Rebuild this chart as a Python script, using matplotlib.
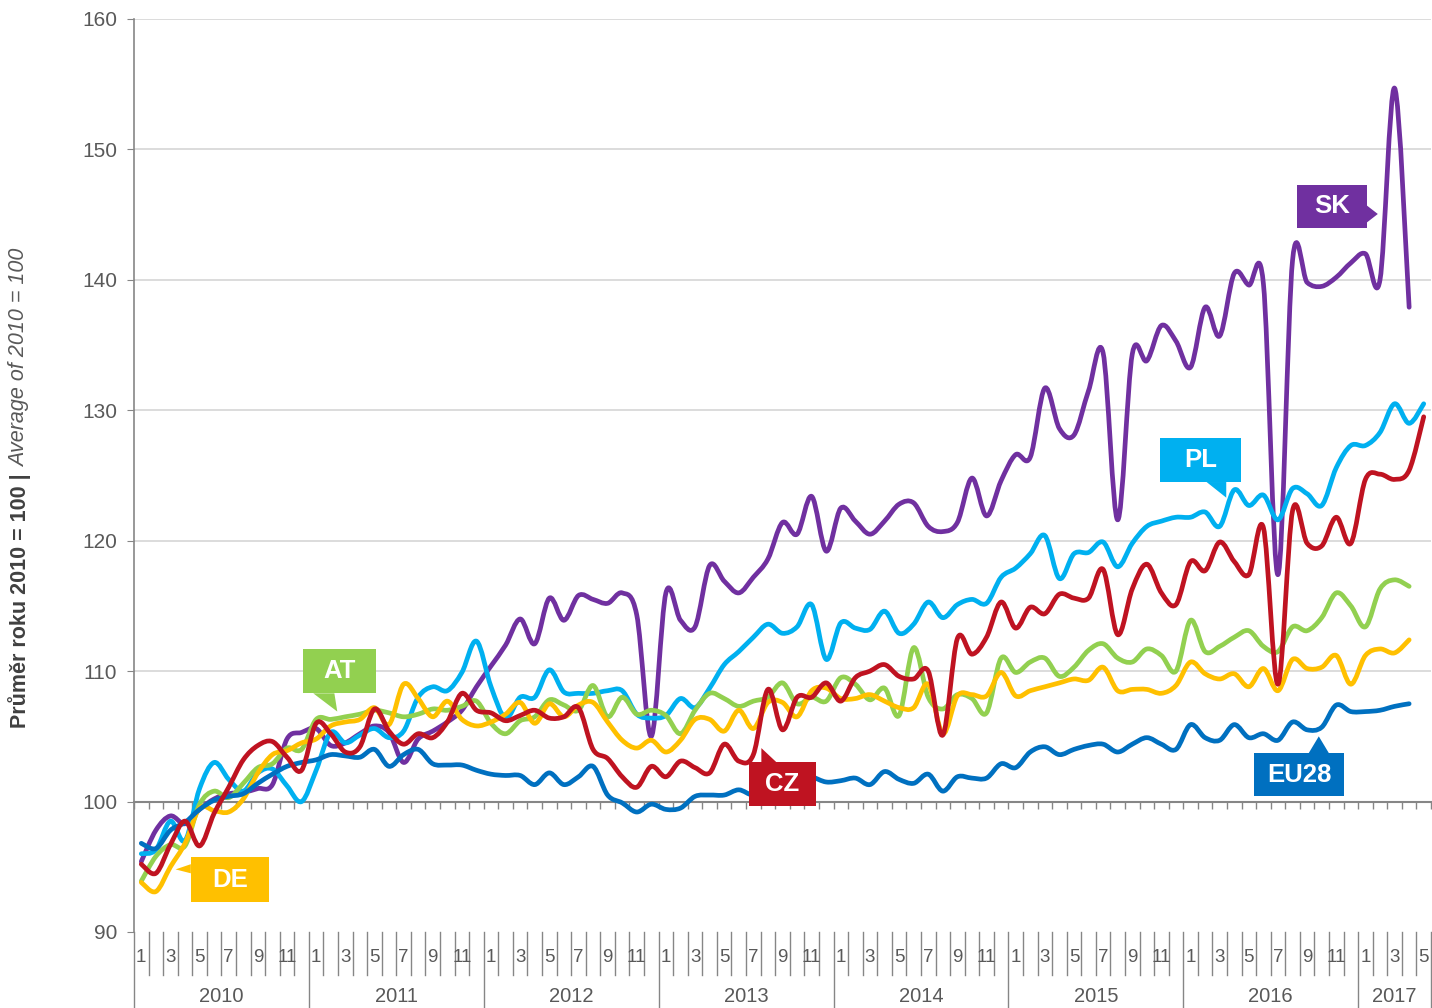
import numpy as np
import matplotlib
matplotlib.use('Agg')
import matplotlib.pyplot as plt
from matplotlib.path import Path
from matplotlib.patches import PathPatch, Polygon
from matplotlib.transforms import blended_transform_factory

plt.rcParams['font.family'] = ['Liberation Sans', 'DejaVu Sans']

# monthly index, Jan 2010 .. May 2017
years = ['2010', '2011', '2012', '2013', '2014', '2015', '2016', '2017']
n_months = 89

sk = [95.4, 97.8, 98.9, 98.3, 99.4, 100.2, 100.6, 100.7, 101.0, 101.3, 104.8, 105.3,
      105.6, 104.3, 104.5, 105.2, 105.8, 105.3, 103.0, 104.8, 105.4, 106.1, 107.0, 108.8,
      110.4, 112.0, 114.0, 112.1, 115.6, 113.9, 115.8, 115.5, 115.2, 116.0, 114.3, 105.0,
      116.0, 113.9, 113.4, 118.1, 116.9, 116.0, 117.2, 118.6, 121.4, 120.5, 123.4, 119.2,
      122.5, 121.5, 120.5, 121.5, 122.8, 122.9, 121.1, 120.7, 121.4, 124.8, 121.9, 124.6,
      126.6, 126.4, 131.7, 128.6, 128.1, 131.5, 134.4, 121.6, 134.3, 133.8, 136.5, 135.3,
      133.3, 137.9, 135.7, 140.5, 139.6, 139.7, 117.4, 141.5, 139.8, 139.5, 140.2, 141.3,
      142.0, 140.0, 154.7, 137.9]
pl = [96.0, 96.3, 98.5, 97.0, 101.0, 103.0, 101.7, 100.8, 102.2, 102.5, 101.2, 100.0,
      102.4, 105.3, 104.5, 105.1, 105.6, 104.9, 105.4, 108.0, 108.8, 108.5, 109.9, 112.3,
      108.8, 106.4, 108.0, 108.0, 110.1, 108.4, 108.3, 108.3, 108.5, 108.5, 106.7, 106.4,
      106.6, 107.9, 107.2, 108.7, 110.5, 111.5, 112.6, 113.6, 112.9, 113.4, 115.1, 110.9,
      113.7, 113.3, 113.2, 114.6, 112.9, 113.6, 115.3, 114.1, 115.1, 115.5, 115.2, 117.2,
      117.9, 119.0, 120.4, 117.1, 119.0, 119.1, 119.9, 118.0, 119.8, 121.1, 121.5, 121.8,
      121.8, 122.2, 121.1, 123.9, 122.7, 123.5, 121.6, 124.0, 123.6, 122.7, 125.6, 127.3,
      127.3, 128.3, 130.5, 129.0, 130.5]
cz = [95.2, 94.5, 96.7, 98.5, 96.6, 99.1, 101.1, 103.2, 104.3, 104.6, 103.4, 102.4,
      106.0, 105.2, 103.8, 104.2, 107.1, 105.4, 104.4, 105.2, 104.9, 106.1, 108.3, 107.0,
      106.8, 106.2, 106.6, 107.0, 106.4, 106.5, 107.2, 104.0, 103.3, 101.9, 101.1, 102.7,
      101.9, 103.1, 102.6, 102.2, 104.4, 103.1, 103.6, 108.6, 105.5, 108.0, 108.0, 109.1,
      107.7, 109.5, 110.0, 110.5, 109.6, 109.4, 110.0, 105.1, 112.5, 111.3, 112.6, 115.3,
      113.3, 114.9, 114.4, 115.9, 115.6, 115.6, 117.8, 112.8, 116.3, 118.2, 116.0, 115.1,
      118.4, 117.7, 119.9, 118.4, 117.4, 121.0, 109.0, 122.3, 119.8, 119.6, 121.8, 119.8,
      124.7, 125.1, 124.7, 125.4, 129.5]
at = [93.9, 95.8, 96.7, 96.6, 99.8, 100.8, 100.3, 101.4, 102.6, 102.9, 104.1, 104.0,
      106.3, 106.3, 106.5, 106.7, 107.0, 106.8, 106.5, 106.7, 107.1, 107.0, 107.3, 107.7,
      106.0, 105.2, 106.2, 106.5, 107.8, 107.4, 107.0, 108.9, 106.5, 108.0, 106.7, 107.0,
      106.6, 105.2, 107.0, 108.3, 107.9, 107.3, 107.7, 108.0, 109.1, 107.5, 108.0, 107.7,
      109.5, 109.0, 107.8, 108.7, 106.6, 111.8, 108.0, 107.1, 108.2, 107.9, 106.8, 111.0,
      109.9, 110.7, 111.0, 109.6, 110.3, 111.6, 112.1, 111.0, 110.7, 111.7, 111.2, 110.0,
      113.9, 111.5, 111.9, 112.6, 113.1, 111.9, 111.5, 113.4, 113.1, 114.1, 116.0, 115.0,
      113.4, 116.3, 117.0, 116.5]
de = [93.8, 93.1, 95.0, 96.8, 99.5, 99.3, 99.2, 100.2, 102.2, 103.6, 103.9, 104.5,
      104.8, 105.8, 106.1, 106.3, 107.2, 105.9, 109.0, 107.9, 106.5, 107.7, 106.3, 105.8,
      106.1, 106.7, 107.6, 106.0, 107.5, 106.5, 107.4, 107.6, 106.1, 104.7, 104.1, 104.7,
      103.8, 104.7, 106.3, 106.3, 105.4, 107.0, 105.6, 107.6, 107.6, 106.5, 108.5, 108.7,
      107.9, 107.9, 108.2, 107.7, 107.2, 107.2, 109.0, 105.2, 108.1, 108.2, 108.1, 109.9,
      108.1, 108.5, 108.8, 109.1, 109.4, 109.3, 110.3, 108.5, 108.6, 108.6, 108.3, 108.9,
      110.7, 109.8, 109.4, 109.8, 108.8, 110.2, 108.5, 110.9, 110.2, 110.3, 111.2, 109.0,
      111.2, 111.7, 111.4, 112.4]
eu28 = [96.8, 96.4, 97.8, 98.4, 99.4, 100.1, 100.4, 100.6, 101.4, 102.1, 102.7, 103.0,
        103.2, 103.6, 103.5, 103.4, 104.0, 102.7, 103.6, 104.0, 102.9, 102.8, 102.8, 102.4,
        102.1, 102.0, 102.0, 101.3, 102.2, 101.3, 101.9, 102.7, 100.5, 99.9, 99.2, 99.8,
        99.4, 99.5, 100.4, 100.5, 100.5, 100.9, 100.5, 101.0, 101.6, 102.1, 101.9, 101.5,
        101.6, 101.8, 101.3, 102.3, 101.7, 101.4, 102.1, 100.8, 101.9, 101.8, 101.8, 102.9,
        102.6, 103.8, 104.2, 103.6, 104.0, 104.3, 104.4, 103.8, 104.4, 104.9, 104.4, 104.0,
        105.9, 104.9, 104.7, 105.9, 104.9, 105.2, 104.7, 106.1, 105.5, 105.7, 107.4, 106.9,
        106.9, 107.0, 107.3, 107.5]

series = [
    ('SK', sk, '#7030A0'),
    ('PL', pl, '#00B0F0'),
    ('AT', at, '#92D050'),
    ('DE', de, '#FFC000'),
    ('EU28', eu28, '#0070C0'),
    ('CZ', cz, '#BF1321'),
]

# callout boxes in data units: box = (x0, x1, y0, y1), ptr = pointer triangle
callouts = {
    'SK':   dict(box=(79.3, 84.1, 144.0, 147.3), ptr=[(84.1, 145.7), (84.85, 145.05), (84.1, 144.4)]),
    'PL':   dict(box=(69.9, 75.45, 124.5, 127.85), ptr=[(73.1, 124.5), (74.45, 123.3), (74.45, 124.5)]),
    'AT':   dict(box=(11.1, 16.1, 108.3, 111.7), ptr=[(11.8, 108.3), (13.45, 106.9), (13.25, 108.3)]),
    'DE':   dict(box=(3.4, 8.75, 92.3, 95.75), ptr=[(3.4, 95.2), (2.35, 94.8), (3.4, 94.5)]),
    'CZ':   dict(box=(41.7, 46.3, 99.65, 103.0), ptr=[(42.55, 103.0), (42.55, 104.1), (43.6, 103.0)]),
    'EU28': dict(box=(76.35, 82.55, 100.4, 103.7), ptr=[(80.1, 103.7), (80.8, 105.0), (81.5, 103.7)]),
}


def smooth_path(x, y):
    # Bezier through the points, like the "smoothed line" option in spreadsheets
    n = len(x)
    verts = [(x[0], y[0])]
    codes = [Path.MOVETO]
    for i in range(n - 1):
        xa, ya = (x[i - 1], y[i - 1]) if i > 0 else (x[i], y[i])
        xd, yd = (x[i + 2], y[i + 2]) if i + 2 < n else (x[i + 1], y[i + 1])
        c1 = (x[i] + (x[i + 1] - xa) / 6, y[i] + (y[i + 1] - ya) / 6)
        c2 = (x[i + 1] - (xd - x[i]) / 6, y[i + 1] - (yd - y[i]) / 6)
        verts += [c1, c2, (x[i + 1], y[i + 1])]
        codes += [Path.CURVE4] * 3
    return Path(verts, codes)


fig = plt.figure(figsize=(14.32, 10.08), dpi=100)
ax = fig.add_axes([134 / 1432, 1 - 932 / 1008, 1297 / 1432, 913 / 1008])
ax.set_xlim(-0.5, n_months - 0.5)
ax.set_ylim(90, 160)

for v in range(110, 161, 10):
    ax.axhline(v, color='#D9D9D9', lw=1.3, zorder=0)

for s in ['top', 'right']:
    ax.spines[s].set_visible(False)
ax.spines['left'].set_color('#868686')
ax.spines['left'].set_linewidth(1.2)
ax.spines['bottom'].set_position(('data', 100))
ax.spines['bottom'].set_color('#868686')
ax.spines['bottom'].set_linewidth(1.5)

ax.set_yticks(range(90, 161, 10))
ax.tick_params(axis='y', direction='out', length=5, color='#868686',
               labelsize=15, labelcolor='#595959', pad=7)
ax.set_xticks(np.arange(n_months + 1) - 0.5)
ax.set_xticklabels([])
ax.tick_params(axis='x', direction='out', length=5, color='#868686', width=1)

for name, vals, col in series:
    xs = np.arange(len(vals))
    p = smooth_path(xs, np.array(vals))
    ax.add_patch(PathPatch(p, fill=False, edgecolor=col, lw=3.4,
                           capstyle='round', joinstyle='round', zorder=3))

for name, vals, col in series:
    c = callouts[name]
    x0, x1, y0, y1 = c['box']
    ax.add_patch(Polygon([(x0, y0), (x1, y0), (x1, y1), (x0, y1)], closed=True,
                         facecolor=col, edgecolor='none', zorder=5))
    ax.add_patch(Polygon(c['ptr'], closed=True, facecolor=col, edgecolor='none', zorder=5))
    ax.text((x0 + x1) / 2, (y0 + y1) / 2, name, color='white', fontsize=18.5,
            fontweight='bold', ha='center', va='center', zorder=6)

# category axis below the plot: month cells and year groups
tr = blended_transform_factory(ax.transData, ax.transAxes)
bottom = -(1008 - 932) / 913
for k in range(n_months + 1):
    yb = bottom if (k % 12 == 0 or k == n_months) else -43 / 913
    ax.plot([k - 0.5, k - 0.5], [0, yb], color='#868686', lw=1, transform=tr,
            clip_on=False)
for i in range(n_months):
    if i % 12 % 2 == 0:
        ax.text(i, -25 / 913, str(i % 12 + 1), transform=tr, ha='center', va='center',
                fontsize=13.5, color='#595959')
for j, yr in enumerate(years):
    idx = [i for i in range(n_months) if i // 12 == j]
    ax.text(np.mean(idx), -64 / 913, yr, transform=tr, ha='center', va='center',
            fontsize=14.5, color='#595959')

# two-part rotated y label
t1 = fig.text(20 / 1432, 1 - 728 / 1008, 'Průměr roku 2010 = 100 |', rotation=90,
              ha='center', va='bottom', fontsize=15.5, fontweight='bold', color='#404040')
fig.canvas.draw()
bb = t1.get_window_extent()
fig.text(20 / 1432, (bb.y1 + 6) / fig.bbox.height, 'Average of 2010 = 100', rotation=90,
         ha='center', va='bottom', fontsize=15.5, style='italic', color='#595959')

fig.savefig('out.png', dpi=100)
